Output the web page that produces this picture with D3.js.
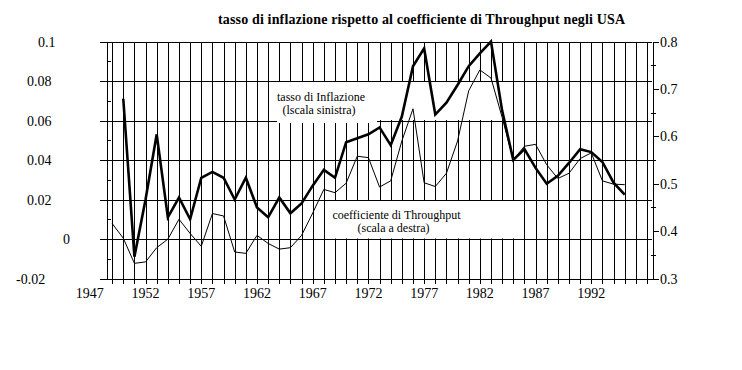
<!DOCTYPE html>
<html>
<head>
<meta charset="utf-8">
<script src="https://cdn.jsdelivr.net/npm/d3@7"></script>
<style>
body { margin: 0; background: #fff; }
svg text { font-family: "Liberation Serif", "Times New Roman", serif; fill: #000; }
</style>
</head>
<body>
<svg id="chart"></svg>
<script>
var width = 742;
var height = 370;

// anni e serie
var years = [1949, 1950, 1951, 1952, 1953, 1954, 1955, 1956, 1957, 1958,
             1959, 1960, 1961, 1962, 1963, 1964, 1965, 1966, 1967, 1968,
             1969, 1970, 1971, 1972, 1973, 1974, 1975, 1976, 1977, 1978,
             1979, 1980, 1981, 1982, 1983, 1984, 1985, 1986, 1987, 1988,
             1989, 1990, 1991, 1992, 1993, 1994, 1995];

// tasso di inflazione (scala sinistra), nessun dato per il 1949
var inflazione = [null, 0.071, -0.009, 0.020, 0.053, 0.011, 0.021, 0.010, 0.031, 0.034,
                  0.031, 0.020, 0.031, 0.016, 0.011, 0.021, 0.013, 0.018, 0.027, 0.035,
                  0.031, 0.049, 0.051, 0.053, 0.0565, 0.0475, 0.062, 0.0875, 0.0965, 0.063,
                  0.069, 0.078, 0.0875, 0.094, 0.100, 0.065, 0.040, 0.0455, 0.036, 0.028,
                  0.032, 0.0385, 0.0455, 0.044, 0.039, 0.0285, 0.0225];

// coefficiente di Throughput (scala destra)
var throughput = [0.416, 0.385, 0.332, 0.335, 0.365, 0.383, 0.425, 0.395, 0.368, 0.437,
                  0.432, 0.356, 0.353, 0.391, 0.374, 0.362, 0.365, 0.391, 0.438, 0.488,
                  0.481, 0.501, 0.558, 0.555, 0.493, 0.506, 0.590, 0.658, 0.502, 0.494,
                  0.522, 0.590, 0.696, 0.740, 0.723, 0.640, 0.550, 0.579, 0.583, 0.540,
                  0.511, 0.522, 0.553, 0.565, 0.506, 0.499, 0.498];

var leftTicks = [-0.02, 0, 0.02, 0.04, 0.06, 0.08, 0.1];
var leftTickLabels = ["-0.02", "0", "0.02", "0.04", "0.06", "0.08", "0.1"];
var leftMinorTicks = [-0.01, 0.01, 0.03, 0.05, 0.07, 0.09];
var rightTicks = [0.3, 0.4, 0.5, 0.6, 0.7, 0.8];
var rightTickLabels = ["0.3", "0.4", "0.5", "0.6", "0.7", "0.8"];
var rightMinorTicks = [0.35, 0.45, 0.55, 0.65, 0.75];
var yearTicks = [1947, 1952, 1957, 1962, 1967, 1972, 1977, 1982, 1987, 1992];
var gridYears = d3.range(1949, 1998);

var plotLeft = 106, plotRight = 652, plotTop = 41.5, plotBottom = 278.5;

var svg = d3.select("#chart")
    .attr("width", width)
    .attr("height", height);

svg.append("rect")
    .attr("width", width)
    .attr("height", height)
    .attr("fill", "#fff");

var xScale = d3.scaleLinear()
    .domain([1948.45, 1997.45])
    .range([plotLeft, plotRight]);

var yLeft = d3.scaleLinear()
    .domain([-0.02, 0.1])
    .range([plotBottom, plotTop]);

var yRight = d3.scaleLinear()
    .domain([0.3, 0.8])
    .range([plotBottom, plotTop]);

var px = function(v) { return Math.round(v) + 0.5; };

var grid = svg.append("g")
    .attr("stroke", "#000")
    .attr("stroke-width", 1)
    .attr("shape-rendering", "crispEdges");

// griglia verticale, un anno per linea, con tacca sotto l'asse
grid.selectAll("line.v")
  .data(gridYears)
  .enter()
  .append("line")
    .attr("class", "v")
    .attr("x1", d => px(xScale(d)))
    .attr("x2", d => px(xScale(d)))
    .attr("y1", px(plotTop))
    .attr("y2", px(plotBottom) + 4);

// riquadri bianchi delle etichette
var boxes = [
  [271, 82, 377, 120],
  [377, 82, 508, 120],
  [327, 200.5, 520, 238.5]
];
svg.append("g")
  .selectAll("rect")
  .data(boxes)
  .enter()
  .append("rect")
    .attr("x", d => d[0])
    .attr("y", d => d[1])
    .attr("width", d => d[2] - d[0])
    .attr("height", d => d[3] - d[1])
    .attr("fill", "#fff");

// griglia orizzontale sulle tacche di sinistra
var hgrid = svg.append("g")
    .attr("stroke", "#000")
    .attr("shape-rendering", "crispEdges");

hgrid.selectAll("line")
  .data(leftTicks)
  .enter()
  .append("line")
    .attr("x1", plotLeft - 6)
    .attr("x2", plotRight)
    .attr("y1", d => px(yLeft(d)))
    .attr("y2", d => px(yLeft(d)));

// la prima etichetta interrompe la linea 0.06
svg.append("rect")
    .attr("x", 277)
    .attr("y", px(yLeft(0.06)) - 1.5)
    .attr("width", 100)
    .attr("height", 3)
    .attr("fill", "#fff");

// assi
var yAxisLeft = d3.axisLeft(yLeft)
    .tickValues(leftTicks)
    .tickSize(6)
    .tickSizeOuter(0)
    .tickFormat("");

var yAxisRight = d3.axisRight(yRight)
    .tickValues(rightTicks)
    .tickSize(6)
    .tickSizeOuter(0)
    .tickFormat("");

svg.append("g")
    .attr("transform", "translate(" + px(plotLeft) + ",0)")
    .attr("shape-rendering", "crispEdges")
    .call(yAxisLeft);

svg.append("g")
    .attr("transform", "translate(" + px(plotRight) + ",0)")
    .attr("shape-rendering", "crispEdges")
    .call(yAxisRight);

svg.selectAll(".domain, .tick line").attr("stroke", "#000");

svg.append("line")
    .attr("x1", px(plotLeft))
    .attr("x2", px(plotRight))
    .attr("y1", px(plotBottom))
    .attr("y2", px(plotBottom))
    .attr("stroke", "#000")
    .attr("shape-rendering", "crispEdges");

// tacche secondarie
svg.append("g")
    .attr("stroke", "#000")
    .attr("shape-rendering", "crispEdges")
  .selectAll("line")
  .data(leftMinorTicks)
  .enter()
  .append("line")
    .attr("x1", px(plotLeft))
    .attr("x2", px(plotLeft) + 4)
    .attr("y1", d => px(yLeft(d)))
    .attr("y2", d => px(yLeft(d)));

svg.append("g")
    .attr("stroke", "#000")
    .attr("shape-rendering", "crispEdges")
  .selectAll("line")
  .data(rightMinorTicks)
  .enter()
  .append("line")
    .attr("x1", px(plotRight) - 2)
    .attr("x2", px(plotRight) + 3)
    .attr("y1", d => px(yRight(d)))
    .attr("y2", d => px(yRight(d)));

// etichette degli assi
var leftLabelX = {"0.1": 38, "0": 63, "-0.02": 16};

svg.append("g")
  .selectAll("text")
  .data(leftTicks)
  .enter()
  .append("text")
    .attr("x", (d, i) => leftLabelX[leftTickLabels[i]] || 27)
    .attr("y", d => yLeft(d))
    .attr("dy", "0.36em")
    .style("font-size", "14px")
    .text((d, i) => leftTickLabels[i]);

svg.append("g")
  .selectAll("text")
  .data(rightTicks)
  .enter()
  .append("text")
    .attr("x", 660)
    .attr("y", d => yRight(d))
    .attr("dy", "0.36em")
    .style("font-size", "14px")
    .text((d, i) => rightTickLabels[i]);

svg.append("g")
  .selectAll("text")
  .data(yearTicks)
  .enter()
  .append("text")
    .attr("x", d => xScale(d))
    .attr("y", 298)
    .style("text-anchor", "middle")
    .style("font-size", "14px")
    .text(d => d);

// serie
var rows = years.map((y, i) => ({year: y, inf: inflazione[i], thr: throughput[i]}));

var lineThr = d3.line()
    .x(d => xScale(d.year))
    .y(d => yRight(d.thr));

var lineInf = d3.line()
    .defined(d => d.inf !== null)
    .x(d => xScale(d.year))
    .y(d => yLeft(d.inf));

svg.append("path")
    .datum(rows)
    .attr("d", lineThr)
    .attr("fill", "none")
    .attr("stroke", "#000")
    .attr("stroke-width", 1);

svg.append("path")
    .datum(rows)
    .attr("d", lineInf)
    .attr("fill", "none")
    .attr("stroke", "#000")
    .attr("stroke-width", 2.6)
    .attr("stroke-linejoin", "miter");

// titolo e didascalie
svg.append("text")
    .attr("x", 421.5)
    .attr("y", 24)
    .attr("textLength", 407)
    .attr("lengthAdjust", "spacing")
    .style("text-anchor", "middle")
    .style("font-size", "14px")
    .style("font-weight", "bold")
    .text("tasso di inflazione rispetto al coefficiente di Throughput negli USA");

svg.append("text")
    .attr("x", 321)
    .attr("y", 101)
    .style("text-anchor", "middle")
    .style("font-size", "12px")
    .text("tasso di Inflazione");

svg.append("text")
    .attr("x", 319)
    .attr("y", 114)
    .style("text-anchor", "middle")
    .style("font-size", "12px")
    .text("(lscala sinistra)");

svg.append("text")
    .attr("x", 396.5)
    .attr("y", 219)
    .style("text-anchor", "middle")
    .style("font-size", "12px")
    .text("coefficiente di Throughput");

svg.append("text")
    .attr("x", 393.5)
    .attr("y", 232)
    .style("text-anchor", "middle")
    .style("font-size", "12px")
    .text("(scala a destra)");
</script>
</body>
</html>
